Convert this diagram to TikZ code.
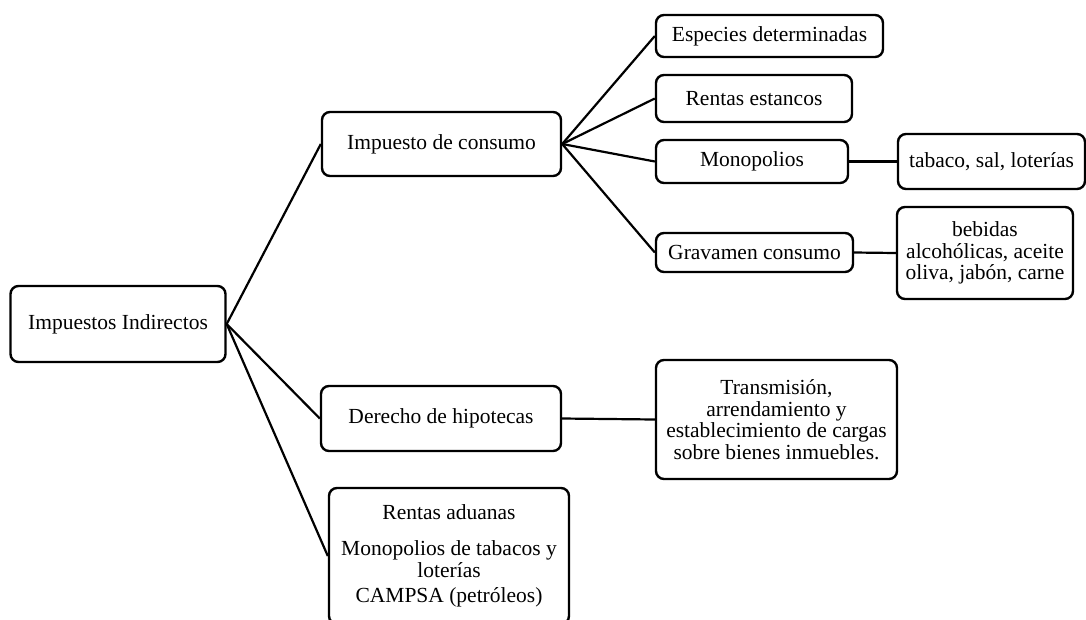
\documentclass[tikz,border=0pt]{standalone}
\usepackage{fontspec}
\setmainfont{Liberation Serif}
\begin{document}
\begin{tikzpicture}[x=1pt,y=-1pt,
  box/.style={draw, line width=2.4pt, rounded corners=8pt, inner sep=0pt, align=center,
              font=\fontsize{21.5}{21.5}\selectfont},
  link/.style={line width=2.2pt}]
\useasboundingbox (0,0) rectangle (1086,619);
\node[box, minimum width=215pt, minimum height=76pt] (ii) at (118,324) {Impuestos Indirectos};
\node[box, minimum width=239pt, minimum height=64pt] (ic) at (441.5,144) {Impuesto de consumo};
\node[box, minimum width=227pt, minimum height=42pt] (ed) at (769.5,36) {Especies determinadas};
\node[box, minimum width=196pt, minimum height=47pt] (re) at (754,98.5) {Rentas estancos};
\node[box, minimum width=192pt, minimum height=43pt] (mo) at (752,161.5) {Monopolios};
\node[box, minimum width=197pt, minimum height=39pt] (gc) at (754.5,252.5) {Gravamen consumo};
\node[box, minimum width=187pt, minimum height=55pt] (ta) at (991.5,161.5) {tabaco, sal, loterías};
\node[box, minimum width=176pt, minimum height=92pt] (be) at (985,253) {bebidas\\alcohólicas, aceite\\oliva, jabón, carne};
\node[box, minimum width=240pt, minimum height=65pt] (dh) at (441,418.5) {Derecho de hipotecas};
\node[box, minimum width=241pt, minimum height=119pt] (tr) at (776.5,419.5) {Transmisión,\\arrendamiento y\\establecimiento de cargas\\sobre bienes inmuebles.};
\node[box, minimum width=240pt, minimum height=136pt] (ra) at (449,556) {Rentas aduanas\\[15pt]Monopolios de tabacos y\\loterías\\[4pt]CAMPSA (petróleos)};
\draw[link] (ii.east) -- (ic.west);
\draw[link] (ii.east) -- (dh.west);
\draw[link] (ii.east) -- (ra.west);
\draw[link] (ic.east) -- (ed.west);
\draw[link] (ic.east) -- (re.west);
\draw[link] (ic.east) -- (mo.west);
\draw[link] (ic.east) -- (gc.west);
\draw[link] (mo.east) -- (ta.west);
\draw[link] (gc.east) -- (be.west);
\draw[link] (dh.east) -- (tr.west);
\end{tikzpicture}
\end{document}
